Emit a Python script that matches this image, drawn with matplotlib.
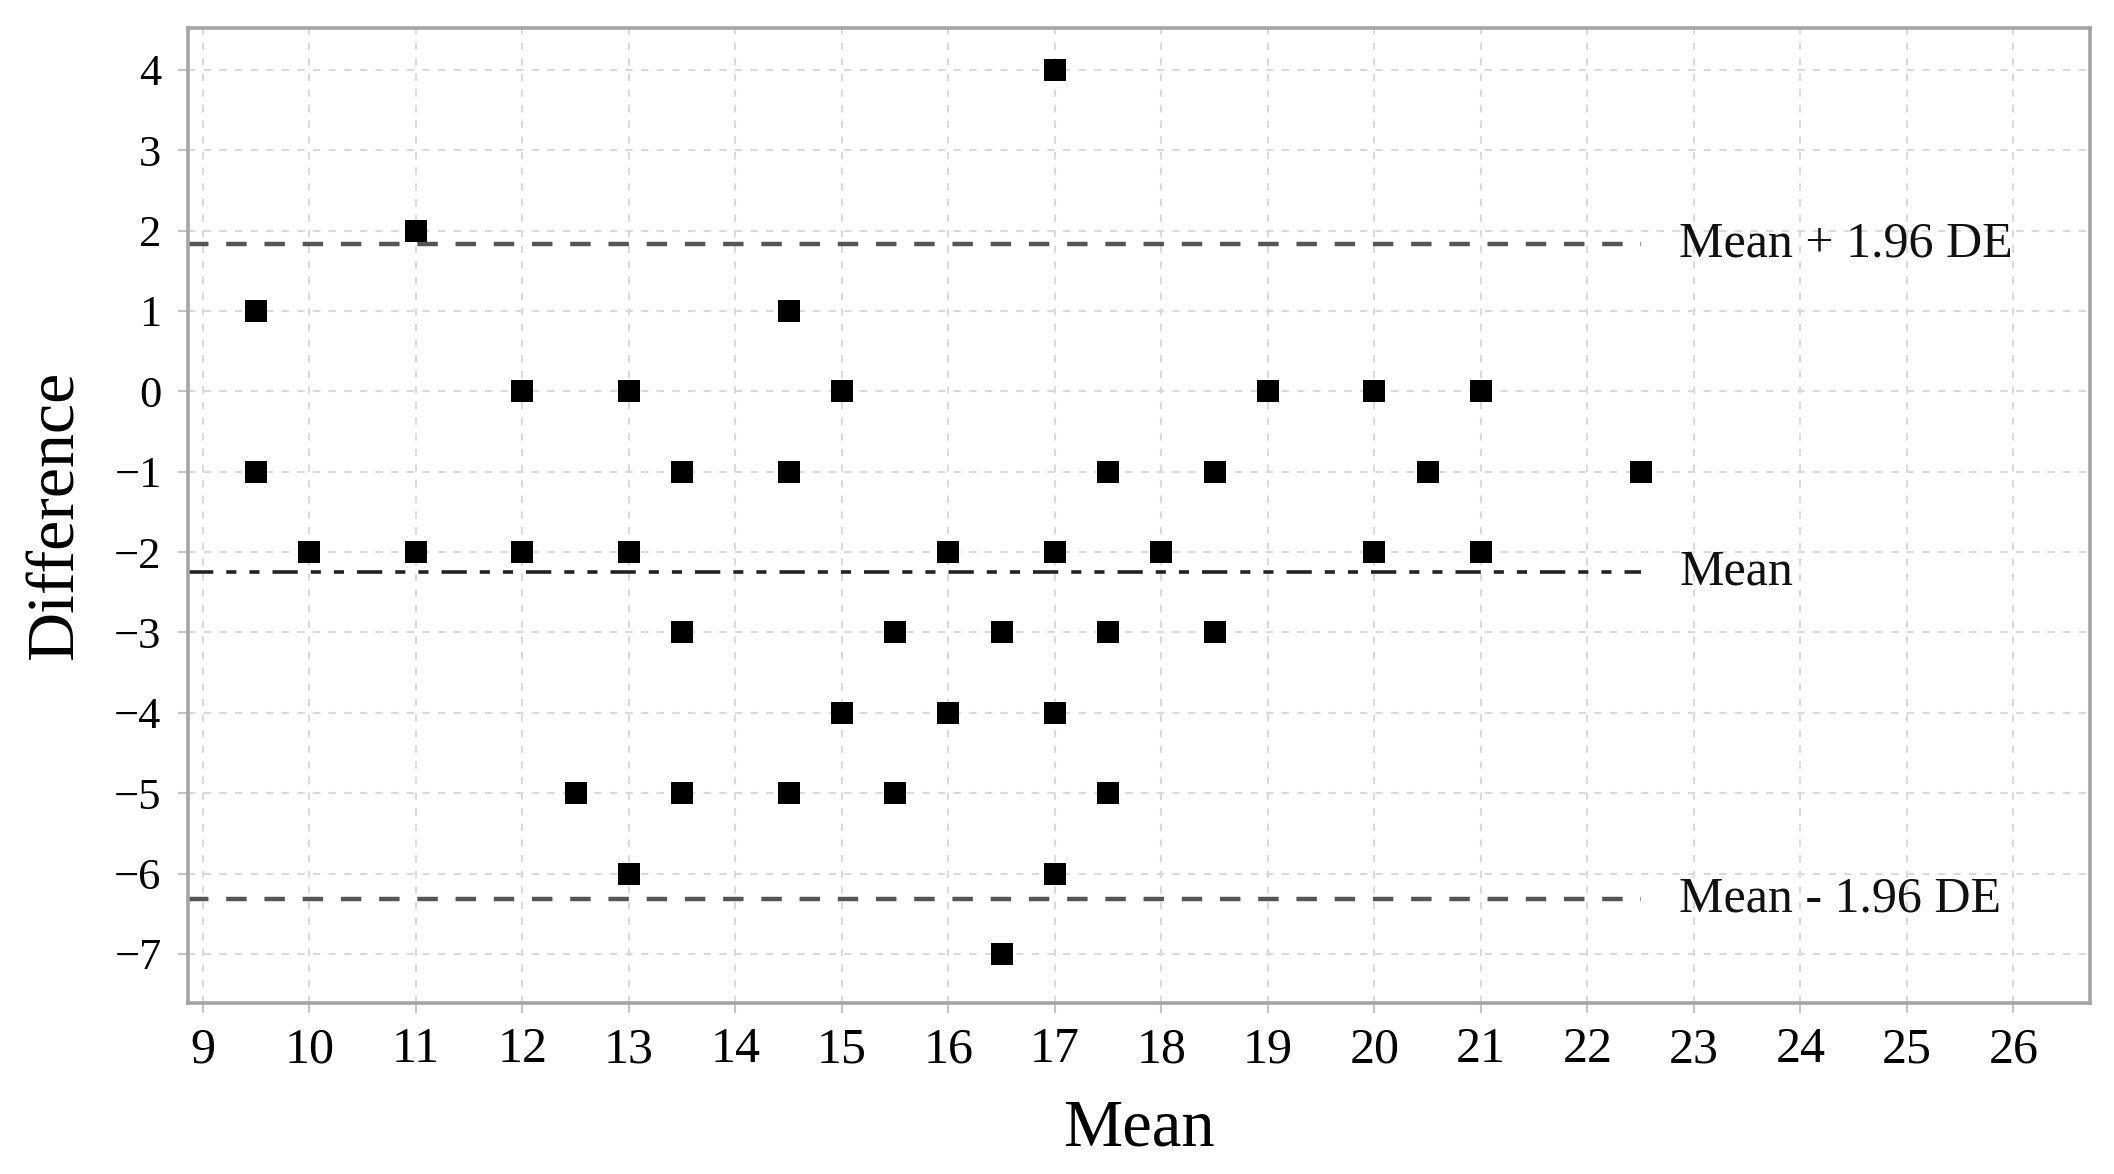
import matplotlib
matplotlib.use("Agg")
import matplotlib.pyplot as plt

# -------------------------
# Data
# -------------------------
mean_vals = [17,
             11,
             9.5, 14.5,
             12, 13, 15, 19, 20, 21,
             9.5, 13.5, 14.5, 17.5, 18.5, 20.5, 22.5,
             10, 11, 12, 13, 16, 17, 18, 20, 21,
             13.5, 15.5, 16.5, 17.5, 18.5,
             15, 16, 17,
             12.5, 13.5, 14.5, 15.5, 17.5,
             13, 17,
             16.5]
diff_vals = [4,
             2,
             1, 1,
             0, 0, 0, 0, 0, 0,
             -1, -1, -1, -1, -1, -1, -1,
             -2, -2, -2, -2, -2, -2, -2, -2, -2,
             -3, -3, -3, -3, -3,
             -4, -4, -4,
             -5, -5, -5, -5, -5,
             -6, -6,
             -7]

mean_diff = -2.245
upper_loa = 1.83
lower_loa = -6.32
line_labels = ["Mean + 1.96 DE", "Mean", "Mean - 1.96 DE"]

x_ticks = list(range(9, 27))
y_ticks = list(range(-7, 5))

# -------------------------
# Plot
# -------------------------
plt.rcParams["font.family"] = ["Liberation Serif", "DejaVu Serif"]

fig = plt.figure(figsize=(21.14, 11.74), dpi=100)
ax = fig.add_axes([0.0889, 0.1457, 0.8998, 0.8304])

xmin, xmax = 8.86, 26.72
line_end = 22.5
ax.set_xlim(xmin, xmax)
ax.set_ylim(-7.61, 4.52)

ax.set_xticks(x_ticks)
ax.set_yticks(y_ticks)
ax.grid(True, color="#dadada", linestyle=(0, (3.5, 4.0)), linewidth=1.5)
ax.set_axisbelow(True)

# limits of agreement and mean difference
ax.plot([xmin, line_end], [upper_loa, upper_loa], color="#555555", lw=3.2,
        linestyle=(0, (4.6, 4.0)))
ax.plot([xmin, line_end], [lower_loa, lower_loa], color="#555555", lw=3.2,
        linestyle=(0, (4.6, 4.0)))
ax.plot([xmin, line_end], [mean_diff, mean_diff], color="#222222", lw=2.6,
        linestyle=(0, (7.0, 3.6, 2.8, 3.6, 2.8, 3.6)))

for lab, yv in zip(line_labels, [upper_loa, mean_diff, lower_loa]):
    ax.text(22.86, yv, lab, fontsize=36, va="center", ha="left", color="#111111")

ax.plot(mean_vals, diff_vals, linestyle="none", marker="s", markersize=16.5,
        markeredgewidth=0, color="black", zorder=5)

for side in ["left", "right", "top", "bottom"]:
    ax.spines[side].set_color("#a4a4a4")
    ax.spines[side].set_linewidth(2.6)

ax.tick_params(axis="both", direction="out", length=7, width=1.5, color="#c4c4c4")
ax.tick_params(axis="x", labelsize=36, pad=10)
ax.tick_params(axis="y", labelsize=32, pad=12)

ax.set_xlabel("Mean", fontsize=48, labelpad=18)
ax.set_ylabel("Difference", fontsize=49, labelpad=20)

fig.savefig("out.png", dpi=100, facecolor="white")
